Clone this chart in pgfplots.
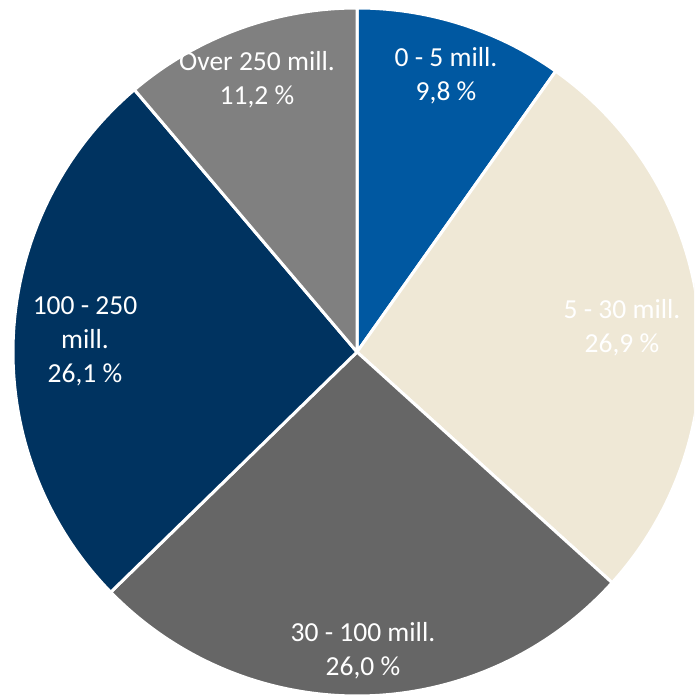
\documentclass[border=0pt]{standalone}
\usepackage{pgfplots}
\pgfplotsset{compat=1.18}
\usepackage{fontspec}
\setmainfont{Carlito}
\definecolor{cA}{RGB}{0,88,161}
\definecolor{cB}{RGB}{239,232,214}
\definecolor{cC}{RGB}{102,102,102}
\definecolor{cD}{RGB}{0,51,96}
\definecolor{cE}{RGB}{128,128,128}
% shares in percent
\def\vA{9.8}
\def\vB{26.9}
\def\vC{26.0}
\def\vD{26.1}
\def\vE{11.2}
\def\R{344}
\pgfmathsetmacro\aA{90}
\pgfmathsetmacro\aB{\aA-3.6*\vA}
\pgfmathsetmacro\aC{\aB-3.6*\vB}
\pgfmathsetmacro\aD{\aC-3.6*\vC}
\pgfmathsetmacro\aE{\aD-3.6*\vD}
\pgfmathsetmacro\aF{\aE-3.6*\vE}
\newcommand\slice[3]{%
  \filldraw[fill=#3, draw=white, line width=3pt, line join=round]
    (axis cs:0,0) -- (axis cs:{\R*cos(#1)},{\R*sin(#1)})
    arc[start angle=#1, end angle=#2, radius=\R pt] -- cycle;}
\begin{document}
\begin{tikzpicture}
\begin{axis}[
  name=pie,
  hide axis, scale only axis,
  x=1pt, y=1pt,
  xmin=-357, xmax=337, ymin=-344, ymax=352,
  clip=true,
]
\addplot[draw=none] coordinates {(0,0)};
\slice{\aA}{\aB}{cA}
\slice{\aB}{\aC}{cB}
\slice{\aC}{\aD}{cC}
\slice{\aD}{\aE}{cD}
\slice{\aE}{\aF}{cE}
\tikzset{lab/.style={align=center, text=white, font=\fontsize{27.5}{34}\selectfont}}
\node[lab] at (axis cs:89,276) {0 - 5 mill.\\9,8 \%};
\node[lab] at (axis cs:265,24) {5 - 30 mill.\\26,9 \%};
\node[lab] at (axis cs:6,-299) {30 - 100 mill.\\26,0 \%};
\node[lab] at (axis cs:-272,11) {100 - 250\\mill.\\26,1 \%};
\node[lab] at (axis cs:-100,272) {Over 250 mill.\\11,2 \%};
\end{axis}
\pgfresetboundingbox
\useasboundingbox (pie.south west) rectangle (pie.north east);
\end{tikzpicture}
\end{document}
